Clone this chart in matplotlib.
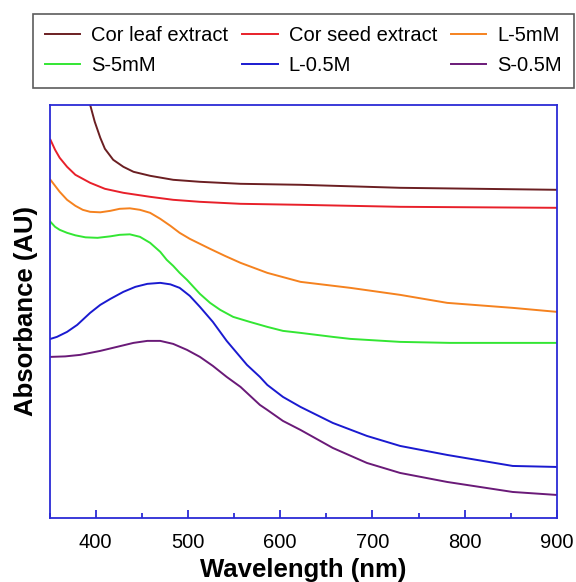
import matplotlib
matplotlib.use("Agg")
import matplotlib.pyplot as plt
from matplotlib.ticker import MultipleLocator

plt.rcParams['font.family'] = ['Liberation Sans', 'DejaVu Sans']

# UV-vis spectra, absorbance in arbitrary units
leaf_nm = [394, 399, 405, 410, 419, 430, 441, 459, 484, 513, 557, 622, 730, 900]
leaf_abs = [4.13, 3.96, 3.80, 3.69, 3.58, 3.51, 3.46, 3.42, 3.38, 3.36, 3.34, 3.33, 3.30, 3.28]

seed_nm = [351, 356, 361, 369, 378, 394, 410, 430, 459, 484, 513, 557, 622, 730, 900]
seed_abs = [3.78, 3.68, 3.60, 3.51, 3.43, 3.35, 3.29, 3.25, 3.21, 3.18, 3.16, 3.14, 3.13, 3.11, 3.10]

l5_nm = [351, 356, 361, 369, 378, 386, 394, 405, 416, 426, 437, 448, 459, 470, 481, 491,
         502, 513, 524, 540, 557, 586, 622, 676, 730, 781, 852, 900]
l5_abs = [3.38, 3.32, 3.26, 3.18, 3.12, 3.08, 3.06, 3.055, 3.07, 3.09, 3.095, 3.08, 3.05, 2.99,
          2.92, 2.85, 2.79, 2.74, 2.69, 2.62, 2.55, 2.45, 2.36, 2.30, 2.23, 2.15, 2.10, 2.06]

s5_nm = [351, 356, 361, 369, 378, 389, 402, 416, 426, 437, 448, 459, 470, 477, 484, 491,
         499, 513, 524, 535, 549, 567, 586, 603, 622, 657, 676, 730, 784, 900]
s5_abs = [2.96, 2.91, 2.88, 2.85, 2.825, 2.805, 2.80, 2.815, 2.83, 2.835, 2.81, 2.75, 2.66,
          2.58, 2.52, 2.45, 2.38, 2.24, 2.15, 2.08, 2.01, 1.96, 1.91, 1.87, 1.85, 1.81, 1.79,
          1.76, 1.75, 1.75]

l05_nm = [351, 358, 369, 380, 394, 405, 416, 430, 443, 456, 470, 481, 491, 502, 513, 527,
          542, 553, 564, 578, 586, 603, 622, 657, 694, 730, 781, 852, 900]
l05_abs = [1.79, 1.81, 1.86, 1.93, 2.05, 2.13, 2.19, 2.26, 2.31, 2.34, 2.35, 2.335, 2.30,
           2.22, 2.11, 1.96, 1.77, 1.65, 1.53, 1.41, 1.33, 1.21, 1.11, 0.95, 0.82, 0.72,
           0.63, 0.52, 0.51]

s05_nm = [351, 367, 383, 405, 423, 441, 456, 470, 484, 499, 513, 527, 542, 557, 578, 586,
          603, 622, 657, 694, 730, 781, 852, 900]
s05_abs = [1.61, 1.615, 1.63, 1.67, 1.71, 1.75, 1.77, 1.77, 1.74, 1.68, 1.61, 1.52, 1.41,
           1.31, 1.13, 1.08, 0.97, 0.88, 0.70, 0.55, 0.45, 0.36, 0.26, 0.23]

labels = ['Cor leaf extract', 'Cor seed extract', 'L-5mM', 'S-5mM', 'L-0.5M', 'S-0.5M']
colors = ['#6b1f22', '#e8202a', '#f5821f', '#33e633', '#1a1ad0', '#6a1a78']
series = [(leaf_nm, leaf_abs), (seed_nm, seed_abs), (l5_nm, l5_abs),
          (s5_nm, s5_abs), (l05_nm, l05_abs), (s05_nm, s05_abs)]

fig = plt.figure(figsize=(5.76, 5.82), dpi=100)
ax = fig.add_axes([0.086, 0.110, 0.881, 0.710])

lines = []
for (x, y), lab, c in zip(series, labels, colors):
    ln, = ax.plot(x, y, color=c, lw=1.4, label=lab)
    lines.append(ln)

ax.set_xlim(350, 900)
ax.set_ylim(0, 4.13)
ax.xaxis.set_major_locator(MultipleLocator(100))
ax.xaxis.set_minor_locator(MultipleLocator(50))
ax.set_yticks([])

spine_c = '#2b2bd6'
for s in ax.spines.values():
    s.set_color(spine_c)
    s.set_linewidth(1.3)
ax.tick_params(axis='x', which='major', direction='in', length=6, width=1.3,
               color=spine_c, labelsize=14.5, pad=11)
ax.tick_params(axis='x', which='minor', direction='in', length=3.5, width=1.3,
               color=spine_c)

ax.set_xlabel('Wavelength (nm)', fontsize=18.5, fontweight='bold', labelpad=4)
ax.set_ylabel('Absorbance (AU)', fontsize=18.5, fontweight='bold', labelpad=8)

# legend fills column by column, so reorder to read row by row
order = [0, 3, 1, 4, 2, 5]
leg = fig.legend([lines[i] for i in order], [labels[i] for i in order],
                 loc='upper left', bbox_to_anchor=(32.7 / 576, 1 - 14.3 / 582),
                 ncol=3, fontsize=14.5, frameon=True, fancybox=False,
                 borderaxespad=0, borderpad=0.6, handlelength=1.75,
                 handletextpad=0.55, columnspacing=0.7, labelspacing=0.55)
leg.get_frame().set_edgecolor('#333333')
leg.get_frame().set_linewidth(1.2)

fig.savefig('out.png', dpi=100)
